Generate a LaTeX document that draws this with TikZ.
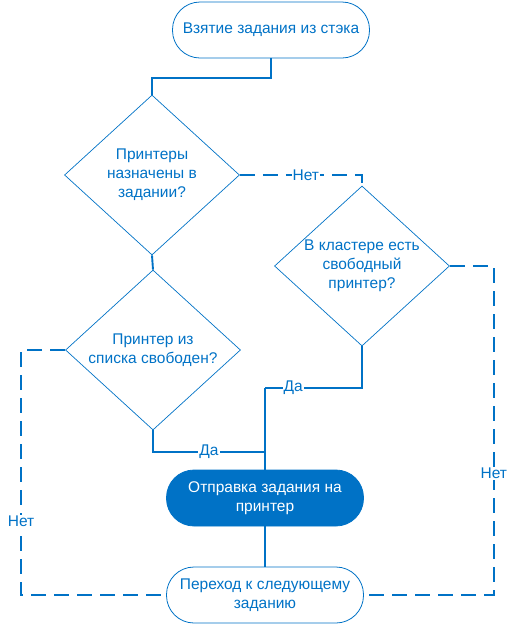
\documentclass[tikz,border=0pt]{standalone}
\usepackage{fontspec}
\setmainfont{Liberation Sans}
\usetikzlibrary{shapes.geometric}
\definecolor{flowblue}{RGB}{0,114,198}
\begin{document}
\begin{tikzpicture}
		[x=1pt, y=-1pt,
		every node/.style={font=\fontsize{15.5}{19}\selectfont,
			text=flowblue, align=center},
		terminal/.style={draw=flowblue, line width=0.8pt,
			rectangle, rounded corners=27.5pt,
			minimum width=197pt, minimum height=56pt, inner sep=0pt},
		decision/.style={diamond, draw=flowblue, line width=0.7pt,
			inner sep=0pt, shape aspect=1.09,
			minimum width=175pt, minimum height=160pt},
		yes/.style={draw=flowblue, line width=1.9pt},
		no/.style={yes, dash pattern=on 15pt off 8pt},
		tag/.style={fill=white, inner sep=1pt}]
		\useasboundingbox (0,0) rectangle (515,625);
		\node[terminal] (take) at (271,30) {Взятие задания из стэка};
		\node[decision] (assigned) at (152,175) {Принтеры\\назначены в\\задании?};
		\node[decision] (cluster) at (362,266) {В кластере есть\\свободный\\принтер?};
		\node[decision] (listfree) at (153,350) {Принтер из\\списка свободен?};
		\node[terminal, fill=flowblue, text=white] (send) at (265,498) {Отправка задания на\\принтер};
		\node[terminal] (next) at (265,595) {Переход к следующему\\заданию};
		\coordinate (joinA) at (265,452);
		\coordinate (joinB) at (265,388);
		\draw[yes] (take.south) -- ++(0,20) -| (assigned.north);
		\draw[no] (assigned.east) -| node[tag, pos=0.27] {Нет} (cluster.north);
		\draw[yes] (assigned.south) -- (listfree.north);
		\draw[yes] (listfree.south) |- node[tag, pos=0.75] {Да} (joinA);
		\draw[yes] (cluster.south) |- node[tag, pos=0.855] {Да} (joinB);
		\draw[yes] (joinB) -- (send.north);
		\draw[yes] (send.south) -- (next.north);
		\draw[no] (listfree.west) -- ++(-44,0) |- node[tag, pos=0.35] {Нет} (next.west);
		\draw[no] (cluster.east) -- ++(44,0) |- node[tag, pos=0.315] {Нет} (next.east);
	\end{tikzpicture}
\end{document}
